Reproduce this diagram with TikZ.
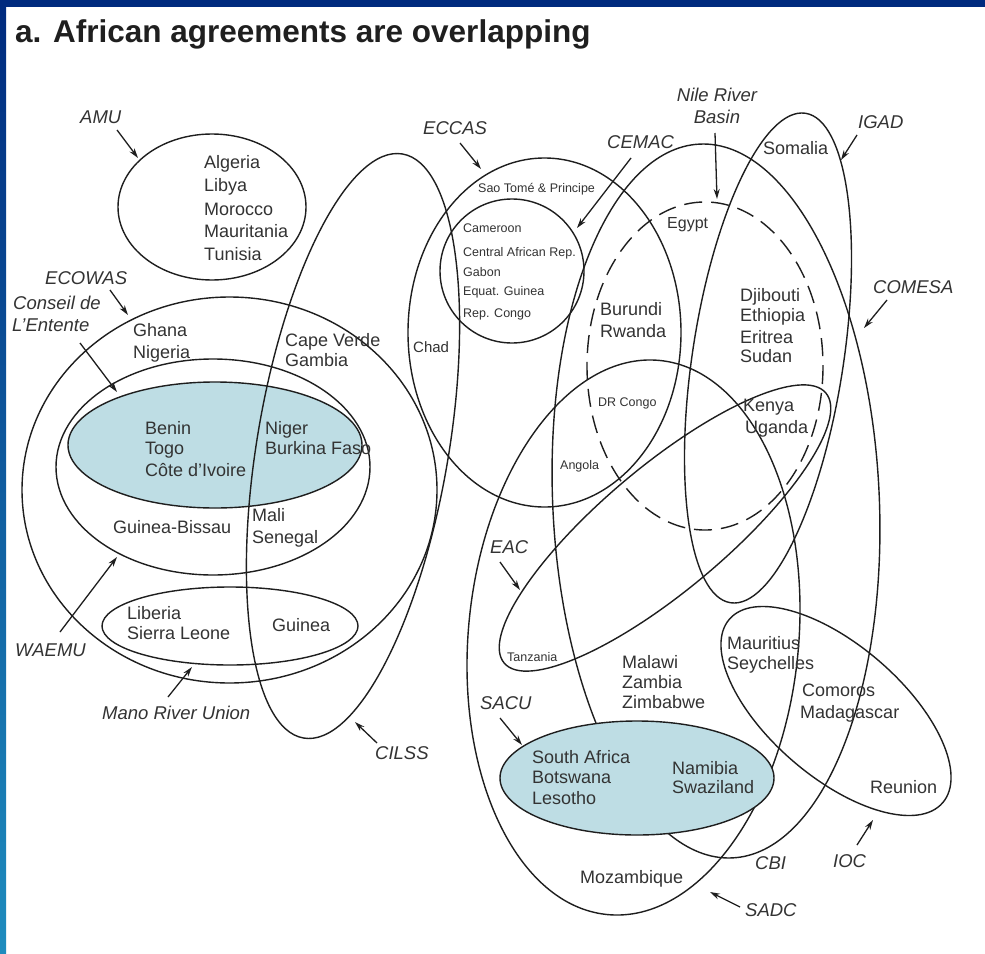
\documentclass[tikz,border=0pt]{standalone}
\usepackage{fontspec}
\setmainfont{Liberation Sans}
\usetikzlibrary{arrows.meta}
\definecolor{linec}{HTML}{1E1E1E}
\definecolor{txtc}{HTML}{333333}
\definecolor{shadefill}{RGB}{190,221,228}
\definecolor{navy}{HTML}{002A7E}
\definecolor{midb}{HTML}{0A4A9E}
\definecolor{sideb}{HTML}{1E8CBE}
\begin{document}
\begin{tikzpicture}[x=1pt,y=-1pt,
  ring/.style={draw=linec, line width=1.4pt},
  ctry/.style={font=\fontsize{18}{20}\selectfont, text=txtc, inner sep=0pt, anchor=base west},
  smallc/.style={font=\fontsize{12.5}{14}\selectfont, text=txtc, inner sep=0pt, anchor=base west},
  lbl/.style={font=\itshape\fontsize{18.5}{20}\selectfont, text=txtc, inner sep=0pt, anchor=base west},
  arr/.style={draw=linec, line width=1.3pt, -{Stealth[length=10pt,width=6pt]}}
]
\useasboundingbox (0,0) rectangle (985,953);
\fill[white] (0,0) rectangle (985,953);
\shade[top color=navy, middle color=midb, bottom color=sideb] (0,0) rectangle (6,953);
\fill[navy] (0,0) rectangle (985,7);

% title
\node[font=\bfseries\fontsize{31.5}{33}\selectfont, text=black!88, inner sep=0pt, anchor=base west] (title) at (15,42) {a. African agreements are overlapping};

% ---------- West / North ----------
\fill[shadefill] (215,445) ellipse [x radius=147, y radius=63];
\draw[ring] (212,207) ellipse [x radius=94, y radius=73];          % AMU
\draw[ring] (229.5,490) ellipse [x radius=207.5, y radius=193];    % ECOWAS
\draw[ring] (213,467) ellipse [x radius=157, y radius=108];        % WAEMU
\draw[ring] (215,445) ellipse [x radius=147, y radius=63];         % Conseil de l'Entente
\draw[ring] (230,626) ellipse [x radius=128, y radius=39];         % Mano River Union
\draw[ring, rotate around={-9.6:(353,446)}] (353,446) ellipse [x radius=95.8, y radius=296.2]; % CILSS

% ---------- Central / East / South ----------
\draw[ring] (544.5,332.5) ellipse [x radius=136.5, y radius=174.5]; % ECCAS
\draw[ring] (512,271) ellipse [x radius=72, y radius=72];            % CEMAC
\draw[ring, dash pattern=on 18pt off 9pt] (705,366) ellipse [x radius=118, y radius=164]; % Nile
\draw[ring, rotate around={-8.7:(768,358)}] (768,358) ellipse [x radius=75.5, y radius=247.6]; % IGAD
\draw[ring, rotate around={2.6:(716,501)}] (716,501) ellipse [x radius=163.3, y radius=357.3]; % COMESA
\draw[ring, rotate around={40:(665,528)}] (665,528) ellipse [x radius=210, y radius=62]; % EAC
\draw[ring, rotate around={-5.3:(633.5,637.5)}] (633.5,637.5) ellipse [x radius=165.2, y radius=278.3]; % SADC
\draw[ring, rotate around={-40.7:(836,711)}] (836,711) ellipse [x radius=140.7, y radius=66]; % IOC
\filldraw[ring, fill=shadefill] (637,778) ellipse [x radius=137, y radius=57]; % SACU

% ---------- arrows ----------
\coordinate (amuA) at (117,130);   \coordinate (amuB) at (138,158);
\coordinate (ecoA) at (110,290);   \coordinate (ecoB) at (128,315);
\coordinate (conA) at (80,343);    \coordinate (conB) at (117,392);
\coordinate (waeA) at (60,632);    \coordinate (waeB) at (117,557);
\coordinate (manA) at (168,697);   \coordinate (manB) at (192,667);
\coordinate (cilA) at (377,743);   \coordinate (cilB) at (355,722);
\coordinate (eccA) at (460,143);   \coordinate (eccB) at (481,169);
\coordinate (cemA) at (631,158);   \coordinate (cemB) at (577,228);
\coordinate (nilA) at (715,133);   \coordinate (nilB) at (717,199);
\coordinate (igaA) at (857,135);   \coordinate (igaB) at (841,160);
\coordinate (comA) at (887,300);   \coordinate (comB) at (864,328);
\coordinate (eacA) at (500,562);   \coordinate (eacB) at (520,590);
\coordinate (sacA) at (500,718);   \coordinate (sacB) at (522,745);
\coordinate (iocA) at (857,845);   \coordinate (iocB) at (873,820);
\coordinate (sadA) at (740,907);   \coordinate (sadB) at (710,892);
\foreach \p in {amu,eco,con,wae,man,cil,ecc,cem,nil,iga,com,eac,sac,ioc,sad}
  \draw[arr] (\p A) -- (\p B);

% ---------- labels ----------
\node[lbl] (lAMU) at (80,123.5) {AMU};
\node[lbl] (lECOWAS) at (45,284.5) {ECOWAS};
\node[lbl] (lCon1) at (13,309.5) {Conseil de};
\node[lbl] (lCon2) at (12,331.5) {L'Entente};
\node[lbl] (lWAEMU) at (15,656.5) {WAEMU};
\node[lbl] (lMano) at (102,719.5) {Mano River Union};
\node[lbl] (lCILSS) at (375,759.5) {CILSS};
\node[lbl] (lECCAS) at (423,134.5) {ECCAS};
\node[lbl] (lCEMAC) at (607,148.5) {CEMAC};
\node[lbl, anchor=base] (lNile1) at (717,101.5) {Nile River};
\node[lbl, anchor=base] (lNile2) at (717,123.5) {Basin};
\node[lbl] (lIGAD) at (858,128.5) {IGAD};
\node[lbl] (lCOMESA) at (873,293.5) {COMESA};
\node[lbl] (lEAC) at (490,553.5) {EAC};
\node[lbl] (lSACU) at (480,709.5) {SACU};
\node[lbl] (lCBI) at (755,869.5) {CBI};
\node[lbl] (lIOC) at (833,867.5) {IOC};
\node[lbl] (lSADC) at (745,916.5) {SADC};

% ---------- countries ----------
\node[ctry] (alg) at (204,168) {Algeria};
\node[ctry] (lib) at (204,191) {Libya};
\node[ctry] (mor) at (204,215) {Morocco};
\node[ctry] (mau) at (204,237) {Mauritania};
\node[ctry] (tun) at (204,260) {Tunisia};
\node[ctry] (gha) at (133,336) {Ghana};
\node[ctry] (nga) at (133,358) {Nigeria};
\node[ctry] (cpv) at (285,346) {Cape Verde};
\node[ctry] (gmb) at (285,366) {Gambia};
\node[ctry] (ben) at (145,434) {Benin};
\node[ctry] (tgo) at (145,454) {Togo};
\node[ctry] (civ) at (145,476) {Côte d'Ivoire};
\node[ctry] (ner) at (265,434) {Niger};
\node[ctry] (bfa) at (265,454) {Burkina Faso};
\node[ctry] (gnb) at (113,533) {Guinea-Bissau};
\node[ctry] (mli) at (252,521) {Mali};
\node[ctry] (sen) at (252,543) {Senegal};
\node[ctry] (lbr) at (127,619) {Liberia};
\node[ctry] (sle) at (127,639) {Sierra Leone};
\node[ctry] (gin) at (272,631) {Guinea};
\node[ctry, font=\fontsize{15}{17}\selectfont] (tcd) at (413,352) {Chad};
\node[smallc] (stp) at (478,192.5) {Sao Tomé \& Principe};
\node[smallc] (cmr) at (463,232.5) {Cameroon};
\node[smallc] (caf) at (463,256.5) {Central African Rep.};
\node[smallc] (gab) at (463,276.5) {Gabon};
\node[smallc] (gnq) at (463,295.5) {Equat. Guinea};
\node[smallc] (cog) at (463,317.5) {Rep. Congo};
\node[ctry] (bdi) at (600,315) {Burundi};
\node[ctry] (rwa) at (600,337) {Rwanda};
\node[ctry, font=\fontsize{16}{18}\selectfont] (egy) at (667,228) {Egypt};
\node[ctry] (som) at (763,154) {Somalia};
\node[ctry] (dji) at (740,301) {Djibouti};
\node[ctry] (eth) at (740,321) {Ethiopia};
\node[ctry] (eri) at (740,343) {Eritrea};
\node[ctry] (sdn) at (740,362) {Sudan};
\node[smallc] (cod) at (598,406.5) {DR Congo};
\node[ctry] (ken) at (743,411) {Kenya};
\node[ctry] (uga) at (745,433) {Uganda};
\node[smallc] (ago) at (560,469.5) {Angola};
\node[smallc] (tza) at (507,661.5) {Tanzania};
\node[ctry] (mwi) at (622,668) {Malawi};
\node[ctry] (zmb) at (622,688) {Zambia};
\node[ctry] (zwe) at (622,708) {Zimbabwe};
\node[ctry] (mus) at (727,649) {Mauritius};
\node[ctry] (syc) at (727,669) {Seychelles};
\node[ctry] (com) at (802,696) {Comoros};
\node[ctry] (mdg) at (800,718) {Madagascar};
\node[ctry] (zaf) at (532,763) {South Africa};
\node[ctry] (bwa) at (532,783) {Botswana};
\node[ctry] (lso) at (532,804) {Lesotho};
\node[ctry] (nam) at (672,774) {Namibia};
\node[ctry] (swz) at (672,793) {Swaziland};
\node[ctry] (reu) at (870,793) {Reunion};
\node[ctry] (moz) at (580,883) {Mozambique};
\end{tikzpicture}
\end{document}
